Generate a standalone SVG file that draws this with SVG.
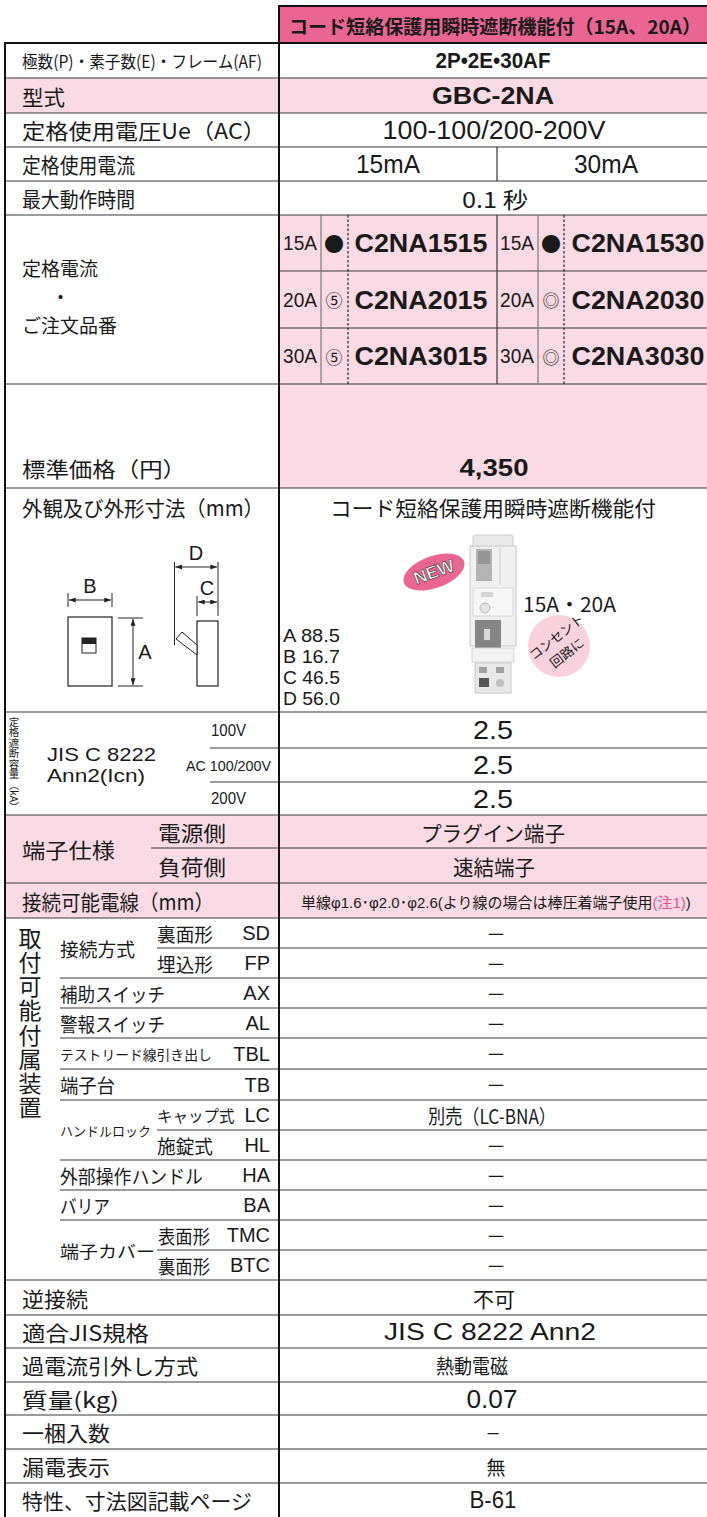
<svg xmlns="http://www.w3.org/2000/svg" width="707" height="1517" viewBox="0 0 707 1517">
<defs>
<style>
text{font-family:'Noto Sans CJK JP','Liberation Sans',sans-serif;fill:#1a1a1a;dominant-baseline:central;font-size:21px}
.la{font-family:'Liberation Sans','Noto Sans CJK JP',sans-serif}
.m{text-anchor:middle}
.e{text-anchor:end}
.b{font-weight:bold}
.s16{font-size:16px}
.s17{font-size:17px}
.s19{font-size:19px}
.s20{font-size:20px}
.s23{font-size:23px}
.s25{font-size:25px}
.vt{writing-mode:vertical-rl;text-orientation:mixed}
.w{fill:#ffffff}
.pk{fill:#e8508a}
.ln{stroke:#3a3a3a;stroke-width:1.2;fill:none}
.hv{stroke:#111;stroke-width:2;fill:none}
.gr{stroke:#7a7a7a;stroke-width:1.2;fill:none}
.dt{stroke:#222;stroke-width:1.2;stroke-dasharray:2.5 2;fill:none}
.dim{stroke:#222;stroke-width:1;fill:none}
.pinkbg{fill:#fadbe5}
</style>
<marker id="ar" viewBox="0 0 8 6" refX="8" refY="3" markerWidth="7" markerHeight="5" orient="auto-start-reverse" markerUnits="userSpaceOnUse"><path d="M0,0 L8,3 L0,6 z" fill="#222"/></marker>
</defs>
<rect x="0" y="0" width="707" height="1517" fill="#ffffff"/>

<g id="backgrounds">
<rect x="279" y="6" width="428" height="37" fill="#ea6592"/>
<rect class="pinkbg" x="5" y="78" width="702" height="35"/>
<rect class="pinkbg" x="279" y="215" width="428" height="273"/>
<rect class="pinkbg" x="5" y="815" width="702" height="103"/>
</g>

<g id="grid">
<line class="hv" x1="279" y1="6" x2="707" y2="6"/>
<line class="hv" x1="5" y1="43" x2="707" y2="43"/>
<line class="ln" x1="5" y1="78" x2="707" y2="78"/>
<line class="ln" x1="5" y1="113" x2="707" y2="113"/>
<line class="ln" x1="5" y1="147" x2="707" y2="147"/>
<line class="ln" x1="5" y1="181" x2="707" y2="181"/>
<line class="ln" x1="5" y1="215" x2="707" y2="215"/>
<line class="ln" x1="279" y1="271" x2="707" y2="271"/>
<line class="ln" x1="279" y1="328" x2="707" y2="328"/>
<line class="ln" x1="5" y1="384" x2="707" y2="384"/>
<line class="ln" x1="5" y1="488" x2="707" y2="488"/>
<line class="ln" x1="5" y1="712" x2="707" y2="712"/>
<line class="ln" x1="210" y1="748" x2="707" y2="748"/>
<line class="ln" x1="210" y1="782" x2="707" y2="782"/>
<line class="ln" x1="5" y1="815" x2="707" y2="815"/>
<line class="ln" x1="151" y1="848" x2="707" y2="848"/>
<line class="ln" x1="5" y1="883" x2="707" y2="883"/>
<line class="ln" x1="5" y1="918" x2="707" y2="918"/>
<line class="ln" x1="157" y1="948" x2="707" y2="948"/>
<line class="ln" x1="60" y1="978" x2="707" y2="978"/>
<line class="ln" x1="60" y1="1008" x2="707" y2="1008"/>
<line class="ln" x1="60" y1="1038" x2="707" y2="1038"/>
<line class="ln" x1="60" y1="1069" x2="707" y2="1069"/>
<line class="ln" x1="60" y1="1100" x2="707" y2="1100"/>
<line class="ln" x1="157" y1="1130" x2="707" y2="1130"/>
<line class="ln" x1="60" y1="1160" x2="707" y2="1160"/>
<line class="ln" x1="60" y1="1190" x2="707" y2="1190"/>
<line class="ln" x1="60" y1="1220" x2="707" y2="1220"/>
<line class="ln" x1="157" y1="1250" x2="707" y2="1250"/>
<line class="ln" x1="5" y1="1280" x2="707" y2="1280"/>
<line class="ln" x1="5" y1="1315" x2="707" y2="1315"/>
<line class="ln" x1="5" y1="1348" x2="707" y2="1348"/>
<line class="ln" x1="5" y1="1382" x2="707" y2="1382"/>
<line class="ln" x1="5" y1="1415" x2="707" y2="1415"/>
<line class="ln" x1="5" y1="1449" x2="707" y2="1449"/>
<line class="ln" x1="5" y1="1483" x2="707" y2="1483"/>
<line class="hv" x1="5" y1="42" x2="5" y2="1517"/>
<line class="hv" x1="279" y1="5" x2="279" y2="1517"/>
<line class="ln" x1="497" y1="147" x2="497" y2="181"/>
<line class="gr" x1="321" y1="215" x2="321" y2="384"/>
<line class="dt" x1="348" y1="215" x2="348" y2="384"/>
<line class="ln" x1="497" y1="215" x2="497" y2="384"/>
<line class="gr" x1="538" y1="215" x2="538" y2="384"/>
<line class="dt" x1="564" y1="215" x2="564" y2="384"/>
</g>

<g id="header">
<text x="289" y="25" class="b" style="font-size:19px" textLength="412" lengthAdjust="spacingAndGlyphs">コード短絡保護用瞬時遮断機能付（15A、20A）</text>
</g>

<g id="row-poles">
<text x="22" y="60.5" class="s17" textLength="240" lengthAdjust="spacingAndGlyphs">極数(P)・素子数(E)・フレーム(AF)</text>
<text x="493" y="60.5" class="la b m" style="font-size:22px" textLength="115" lengthAdjust="spacingAndGlyphs">2P•2E•30AF</text>
</g>

<g id="row-type">
<text x="22" y="95.5" textLength="43" lengthAdjust="spacingAndGlyphs">型式</text>
<text x="493" y="95.5" class="la b m" style="font-size:24px" textLength="122" lengthAdjust="spacingAndGlyphs">GBC-2NA</text>
</g>

<g id="row-voltage">
<text x="22" y="130" textLength="244" lengthAdjust="spacingAndGlyphs">定格使用電圧Ue（AC）</text>
<text x="494" y="130" class="la m s25" textLength="223" lengthAdjust="spacingAndGlyphs">100-100/200-200V</text>
</g>

<g id="row-current">
<text x="22" y="164" textLength="113" lengthAdjust="spacingAndGlyphs">定格使用電流</text>
<text x="388" y="164" class="la m s25" textLength="64" lengthAdjust="spacingAndGlyphs">15mA</text>
<text x="606" y="164" class="la m s25" textLength="64" lengthAdjust="spacingAndGlyphs">30mA</text>
</g>

<g id="row-time">
<text x="22" y="198" textLength="113" lengthAdjust="spacingAndGlyphs">最大動作時間</text>
<text x="495" y="198" class="m" style="font-size:22px" textLength="66" lengthAdjust="spacingAndGlyphs">0.1 秒</text>
</g>

<g id="row-rated">
<text x="22" y="267" class="s19"><tspan x="22" y="267">定格電流</tspan><tspan x="51" y="295.5">・</tspan><tspan x="22" y="324">ご注文品番</tspan></text>
<text x="300" y="243" class="la m s20" textLength="34" lengthAdjust="spacingAndGlyphs">15A</text>
<text x="334" y="243" class="m s20">●</text>
<text x="421" y="243" class="la b m" style="font-size:26px" textLength="133" lengthAdjust="spacingAndGlyphs">C2NA1515</text>
<text x="517" y="243" class="la m s20" textLength="34" lengthAdjust="spacingAndGlyphs">15A</text>
<text x="551" y="243" class="m s20">●</text>
<text x="638" y="243" class="la b m" style="font-size:26px" textLength="133" lengthAdjust="spacingAndGlyphs">C2NA1530</text>
<text x="300" y="299.5" class="la m s20" textLength="34" lengthAdjust="spacingAndGlyphs">20A</text>
<text x="334" y="299.5" class="m s17">⑤</text>
<text x="421" y="299.5" class="la b m" style="font-size:26px" textLength="133" lengthAdjust="spacingAndGlyphs">C2NA2015</text>
<text x="517" y="299.5" class="la m s20" textLength="34" lengthAdjust="spacingAndGlyphs">20A</text>
<text x="551" y="299.5" class="m s17">◎</text>
<text x="638" y="299.5" class="la b m" style="font-size:26px" textLength="133" lengthAdjust="spacingAndGlyphs">C2NA2030</text>
<text x="300" y="356" class="la m s20" textLength="34" lengthAdjust="spacingAndGlyphs">30A</text>
<text x="334" y="356" class="m s17">⑤</text>
<text x="421" y="356" class="la b m" style="font-size:26px" textLength="133" lengthAdjust="spacingAndGlyphs">C2NA3015</text>
<text x="517" y="356" class="la m s20" textLength="34" lengthAdjust="spacingAndGlyphs">30A</text>
<text x="551" y="356" class="m s17">◎</text>
<text x="638" y="356" class="la b m" style="font-size:26px" textLength="133" lengthAdjust="spacingAndGlyphs">C2NA3030</text>
</g>

<g id="row-price">
<text x="22" y="468" textLength="164" lengthAdjust="spacingAndGlyphs">標準価格（円）</text>
<text x="494" y="468" class="la b m s23" textLength="69" lengthAdjust="spacingAndGlyphs">4,350</text>
</g>

<g id="row-dimensions">
<text x="22" y="507" textLength="242" lengthAdjust="spacingAndGlyphs">外観及び外形寸法（mm）</text>
<text x="493" y="507" class="m" textLength="326" lengthAdjust="spacingAndGlyphs">コード短絡保護用瞬時遮断機能付</text>
<g id="front-view">
<rect x="68" y="617" width="44" height="69" fill="#fff" class="dim" style="stroke-width:1.2"/>
<rect x="82" y="638" width="14" height="15" fill="#fff" class="dim"/>
<rect x="82" y="638" width="14" height="6" fill="#222"/>
<line class="dim" x1="68" y1="593" x2="68" y2="607"/>
<line class="dim" x1="112" y1="593" x2="112" y2="607"/>
<line class="dim" x1="69" y1="600" x2="111" y2="600" marker-start="url(#ar)" marker-end="url(#ar)"/>
<text x="90" y="586" class="la m s20">B</text>
<line class="dim" x1="118" y1="618" x2="143" y2="618"/>
<line class="dim" x1="118" y1="686" x2="143" y2="686"/>
<line class="dim" x1="133" y1="619" x2="133" y2="685" marker-start="url(#ar)" marker-end="url(#ar)"/>
<text x="145" y="652" class="la m s20">A</text>
</g>
<g id="side-view">
<rect x="197" y="621" width="21" height="65" fill="#fff" class="dim" style="stroke-width:1.2"/>
<polygon points="176,639 182,632 197,645 197,655" fill="#fff" stroke="#222" stroke-width="1"/>
<line class="dim" x1="174.5" y1="562" x2="174.5" y2="645"/>
<line class="dim" x1="218" y1="562" x2="218" y2="616"/>
<line class="dim" x1="175.5" y1="567" x2="217" y2="567" marker-start="url(#ar)" marker-end="url(#ar)"/>
<text x="196" y="553" class="la m s20">D</text>
<line class="dim" x1="197" y1="596" x2="197" y2="616"/>
<line class="dim" x1="198" y1="602" x2="217" y2="602" marker-start="url(#ar)" marker-end="url(#ar)"/>
<text x="207" y="588" class="la m s20">C</text>
</g>
<text x="283" y="636" class="la" style="font-size:18px"><tspan x="283" y="636" textLength="57" lengthAdjust="spacingAndGlyphs">A 88.5</tspan><tspan x="283" y="657" textLength="57" lengthAdjust="spacingAndGlyphs">B 16.7</tspan><tspan x="283" y="678" textLength="57" lengthAdjust="spacingAndGlyphs">C 46.5</tspan><tspan x="283" y="699" textLength="57" lengthAdjust="spacingAndGlyphs">D 56.0</tspan></text>
<g id="product">
<rect x="473" y="535" width="40" height="14" rx="2" fill="#e8e8e8" stroke="#cccccc"/>
<rect x="470" y="546" width="46" height="100" fill="#f0f0f0" stroke="#c8c8c8"/>
<rect x="476" y="549" width="16" height="32" fill="#b4b4b4"/>
<rect x="478" y="551" width="12" height="13" fill="#959595"/>
<line x1="500" y1="548" x2="500" y2="585" stroke="#cccccc"/>
<rect x="473" y="588" width="40" height="28" fill="#f6f6f6" stroke="#d6d6d6"/>
<rect x="481" y="592" width="12" height="5" fill="#d4d4d4"/>
<circle cx="485" cy="608" r="5" fill="#e4e4e4" stroke="#bcbcbc"/>
<rect x="475" y="620" width="26" height="28" fill="#858585"/>
<rect x="484" y="629" width="6" height="11" fill="#dadada"/>
<rect x="472" y="648" width="42" height="14" fill="#f2f2f2" stroke="#d4d4d4"/>
<rect x="475" y="663" width="36" height="30" fill="#e8e8e8" stroke="#c8c8c8"/>
<rect x="479" y="667" width="8" height="6" fill="#a0a0a0"/>
<rect x="496" y="667" width="8" height="6" fill="#a0a0a0"/>
<rect x="479" y="678" width="10" height="9" fill="#555555"/>
<circle cx="500" cy="683" r="4" fill="#c0c0c0"/>
</g>
<g id="new-badge" transform="rotate(-20 434 572)">
<ellipse cx="434" cy="572" rx="32" ry="16" fill="#ea6592"/>
<text x="434" y="572" class="la b m w" style="font-size:18px;stroke:#333;stroke-width:0.6">NEW</text>
</g>
<text x="523" y="603" class="s20" textLength="93" lengthAdjust="spacingAndGlyphs">15A・20A</text>
<g id="outlet-badge">
<circle cx="559" cy="646" r="31" fill="#f9d2de"/>
<text x="561" y="636" class="m" style="font-size:13px" transform="rotate(-38 560 644)"><tspan x="561.5" y="635">コンセント</tspan><tspan x="560" y="654">回路に</tspan></text>
</g>
</g>

<g id="row-breaking">
<text x="14" y="716.5" class="vt" style="font-size:10.5px">定格遮断容量（kA）</text>
<text x="47" y="754" class="la" style="font-size:18.5px"><tspan x="47" y="754" textLength="109" lengthAdjust="spacingAndGlyphs">JIS C 8222</tspan><tspan x="47" y="775" textLength="98" lengthAdjust="spacingAndGlyphs">Ann2(Icn)</tspan></text>
<text x="211" y="730" class="la s16" textLength="35" lengthAdjust="spacingAndGlyphs">100V</text>
<text x="186" y="765" class="la" style="font-size:15.5px" textLength="85" lengthAdjust="spacingAndGlyphs">AC 100/200V</text>
<text x="211" y="798.5" class="la s16" textLength="35" lengthAdjust="spacingAndGlyphs">200V</text>
<text x="493" y="730" class="la m s25" textLength="40" lengthAdjust="spacingAndGlyphs">2.5</text>
<text x="493" y="765" class="la m s25" textLength="40" lengthAdjust="spacingAndGlyphs">2.5</text>
<text x="493" y="798.5" class="la m s25" textLength="40" lengthAdjust="spacingAndGlyphs">2.5</text>
</g>

<g id="row-terminal">
<text x="22" y="849" textLength="93" lengthAdjust="spacingAndGlyphs">端子仕様</text>
<text x="158" y="831.5" textLength="68" lengthAdjust="spacingAndGlyphs">電源側</text>
<text x="158" y="865.5" textLength="68" lengthAdjust="spacingAndGlyphs">負荷側</text>
<text x="493" y="831.5" class="m" textLength="144" lengthAdjust="spacingAndGlyphs">プラグイン端子</text>
<text x="494" y="865.5" class="m" textLength="82" lengthAdjust="spacingAndGlyphs">速結端子</text>
</g>

<g id="row-wire">
<text x="22" y="900.5" textLength="192" lengthAdjust="spacingAndGlyphs">接続可能電線（mm）</text>
<text x="301" y="902" class="la" style="font-size:15px">単線φ1.6･φ2.0･φ2.6(より線の場合は棒圧着端子使用<tspan class="pk">(注1)</tspan>)</text>
</g>

<g id="row-accessories">
<text x="30" y="926.5" class="vt" style="font-size:23px;letter-spacing:1.2px">取付可能付属装置</text>
<text x="60" y="948" class="s19" textLength="75" lengthAdjust="spacingAndGlyphs">接続方式</text>
<text x="157" y="933" class="s19" textLength="56" lengthAdjust="spacingAndGlyphs">裏面形</text>
<text x="270" y="933" class="la e s20">SD</text>
<text x="157" y="963" class="s19" textLength="56" lengthAdjust="spacingAndGlyphs">埋込形</text>
<text x="270" y="963" class="la e s20">FP</text>
<text x="60" y="993" class="s19" textLength="105" lengthAdjust="spacingAndGlyphs">補助スイッチ</text>
<text x="270" y="993" class="la e s20">AX</text>
<text x="60" y="1023" class="s19" textLength="105" lengthAdjust="spacingAndGlyphs">警報スイッチ</text>
<text x="270" y="1023" class="la e s20">AL</text>
<text x="60" y="1053.5" style="font-size:13.8px">テストリード線引き出し</text>
<text x="270" y="1053.5" class="la e s20">TBL</text>
<text x="60" y="1084.5" class="s19" textLength="55" lengthAdjust="spacingAndGlyphs">端子台</text>
<text x="270" y="1084.5" class="la e s20">TB</text>
<text x="60" y="1130" style="font-size:13px">ハンドルロック</text>
<text x="157" y="1115" style="font-size:15.5px">キャップ式</text>
<text x="270" y="1115" class="la e s20">LC</text>
<text x="157" y="1145" class="s19" textLength="56" lengthAdjust="spacingAndGlyphs">施錠式</text>
<text x="270" y="1145" class="la e s20">HL</text>
<text x="60" y="1175" class="s19" textLength="143" lengthAdjust="spacingAndGlyphs">外部操作ハンドル</text>
<text x="270" y="1175" class="la e s20">HA</text>
<text x="60" y="1205" class="s19" textLength="50" lengthAdjust="spacingAndGlyphs">バリア</text>
<text x="270" y="1205" class="la e s20">BA</text>
<text x="60" y="1250" class="s17" textLength="95" lengthAdjust="spacingAndGlyphs">端子カバー</text>
<text x="158" y="1235" class="s19" textLength="52" lengthAdjust="spacingAndGlyphs">表面形</text>
<text x="270" y="1235" class="la e s20">TMC</text>
<text x="158" y="1265" class="s19" textLength="52" lengthAdjust="spacingAndGlyphs">裏面形</text>
<text x="270" y="1265" class="la e s20">BTC</text>
<text x="496" y="933" class="m s20">－</text>
<text x="496" y="963" class="m s20">－</text>
<text x="496" y="993" class="m s20">－</text>
<text x="496" y="1023" class="m s20">－</text>
<text x="496" y="1053.5" class="m s20">－</text>
<text x="496" y="1084.5" class="m s20">－</text>
<text x="492" y="1115" class="m s20" textLength="128" lengthAdjust="spacingAndGlyphs">別売（LC-BNA）</text>
<text x="496" y="1145" class="m s20">－</text>
<text x="496" y="1175" class="m s20">－</text>
<text x="496" y="1205" class="m s20">－</text>
<text x="496" y="1235" class="m s20">－</text>
<text x="496" y="1265" class="m s20">－</text>
</g>

<g id="row-bottom">
<text x="22" y="1297.5" textLength="66" lengthAdjust="spacingAndGlyphs">逆接続</text>
<text x="494" y="1297.5" class="m" textLength="42" lengthAdjust="spacingAndGlyphs">不可</text>
<text x="22" y="1331.5" textLength="127" lengthAdjust="spacingAndGlyphs">適合JIS規格</text>
<text x="490" y="1331.5" class="la m" style="font-size:24px" textLength="212" lengthAdjust="spacingAndGlyphs">JIS C 8222 Ann2</text>
<text x="22" y="1365" textLength="176" lengthAdjust="spacingAndGlyphs">過電流引外し方式</text>
<text x="472" y="1365" class="m s20" textLength="72" lengthAdjust="spacingAndGlyphs">熱動電磁</text>
<text x="22" y="1398.5" textLength="97" lengthAdjust="spacingAndGlyphs">質量(kg)</text>
<text x="492" y="1398.5" class="la m s25" textLength="51" lengthAdjust="spacingAndGlyphs">0.07</text>
<text x="22" y="1432" textLength="88" lengthAdjust="spacingAndGlyphs">一梱入数</text>
<text x="493" y="1432" class="la m s20">–</text>
<text x="22" y="1466" textLength="88" lengthAdjust="spacingAndGlyphs">漏電表示</text>
<text x="496" y="1466" class="m s19">無</text>
<text x="22" y="1500" textLength="230" lengthAdjust="spacingAndGlyphs">特性、寸法図記載ページ</text>
<text x="493" y="1500" class="la m s23" textLength="47" lengthAdjust="spacingAndGlyphs">B-61</text>
</g>
</svg>
